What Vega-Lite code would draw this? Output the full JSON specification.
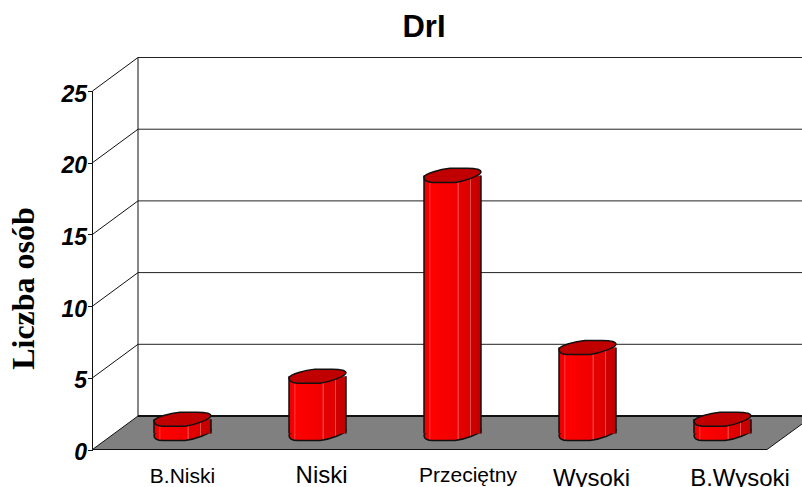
{"$schema":"https://vega.github.io/schema/vega-lite/v6.json","autosize":"none","padding":0,"width":802,"height":487,"background":"white","config":{"view":{"stroke":null}},
"title":{"text":"DrI","font":"Liberation Sans","fontWeight":"bold","fontSize":31,"color":"#000","anchor":"middle","dx":23,"offset":-44,"orient":"top"},
"datasets":{
"bars":[{"category":"B.Niski","pos":1,"value":1},{"category":"Niski","pos":2,"value":4},{"category":"Przeciętny","pos":3,"value":18},{"category":"Wysoki","pos":4,"value":6},{"category":"B.Wysoki","pos":5,"value":1}],
"floor":[{"x":0.3333,"top":-1.116,"bot":-1.116},{"x":0.6704,"top":1.22,"bot":-1.116},{"x":5.3296,"top":1.22,"bot":-1.116},{"x":5.5889,"top":1.22,"bot":0.662}],
"back":[{"v":5,"y":6.22},{"v":10,"y":11.22},{"v":15,"y":16.22},{"v":20,"y":21.22},{"v":25,"y":26.22}],
"edges":[{"x":0.3333,"x2":5.3296,"y":-1.116,"y2":-1.116},{"x":5.3296,"x2":5.5889,"y":-1.116,"y2":0.662},{"x":0.6704,"x2":0.6704,"y":1.22,"y2":26.22},{"x":0.3333,"x2":0.3333,"y":-1.116,"y2":23.884}],
"grid":[{"v":0,"v2":2.336},{"v":5,"v2":7.336},{"v":10,"v2":12.336},{"v":15,"v2":17.336},{"v":20,"v2":22.336},{"v":25,"v2":27.336}],
"labels":[{"label":"B.Niski","lx":1,"ly":-3.452,"group":"a"},{"label":"Niski","lx":2.03,"ly":-3.452,"group":"b"},{"label":"Przeciętny","lx":3.115,"ly":-3.382,"group":"c"},{"label":"Wysoki","lx":4.03,"ly":-3.66,"group":"b"},{"label":"B.Wysoki","lx":5.13,"ly":-3.66,"group":"b"}]
},
"layer":[
{"layer":[
{"data":{"name":"floor"},"mark":{"type":"area","fill":"#808080"},"encoding":{"x":{"field":"x","type":"quantitative","scale":{"domain":[-0.3519,5.5889],"nice":false,"zero":false,"padding":0},"axis":null},"y":{"field":"top","type":"quantitative","scale":{"domain":[-3.731,30.23],"nice":false,"zero":false},"axis":null},"y2":{"field":"bot"}}},
{"data":{"name":"back"},"mark":{"type":"rule","color":"#222","strokeWidth":1},"encoding":{"x":{"datum":0.6704,"type":"quantitative"},"x2":{"datum":5.5889},"y":{"field":"y","type":"quantitative"}}},
{"data":{"values":[{"y":1.22}]},"mark":{"type":"rule","color":"#111","strokeWidth":2},"encoding":{"x":{"datum":0.6704,"type":"quantitative"},"x2":{"datum":5.5889},"y":{"field":"y","type":"quantitative"}}},
{"data":{"name":"edges"},"mark":{"type":"rule","color":"#111","strokeWidth":1},"encoding":{"x":{"field":"x","type":"quantitative"},"x2":{"field":"x2"},"y":{"field":"y","type":"quantitative"},"y2":{"field":"y2"}}},
{"data":{"name":"bars"},"mark":{"type":"point","filled":true,"opacity":1,"size":3249,"shape":"M-1,0.06 C-0.98,-0.07 -0.42,-0.21 -0.088,-0.246 L0.509,-0.246 C0.77,-0.246 1,-0.21 1,-0.116 C1,0 0.42,0.21 0.088,0.246 L-0.684,0.246 C-0.91,0.246 -1,0.175 -1,0.06 Z","stroke":"#111","strokeWidth":1.5,"fill":{"gradient":"linear","x1":0,"x2":1,"y1":0,"y2":0,"stops":[{"offset":0,"color":"#ee0000"},{"offset":0.09,"color":"#f60000"},{"offset":0.1,"color":"#ff4040"},{"offset":0.12,"color":"#ff0000"},{"offset":0.58,"color":"#f00000"},{"offset":0.6,"color":"#f05050"},{"offset":0.62,"color":"#e60000"},{"offset":0.8,"color":"#dc0000"},{"offset":0.815,"color":"#e05050"},{"offset":0.83,"color":"#d00000"},{"offset":1,"color":"#c00000"}]}},"encoding":{"x":{"field":"pos","type":"quantitative"},"y":{"datum":0,"type":"quantitative"}}},
{"data":{"name":"bars"},"mark":{"type":"bar","size":57,"orient":"vertical","fill":{"gradient":"linear","x1":0,"x2":1,"y1":0,"y2":0,"stops":[{"offset":0,"color":"#ee0000"},{"offset":0.09,"color":"#f60000"},{"offset":0.1,"color":"#ff4040"},{"offset":0.12,"color":"#ff0000"},{"offset":0.58,"color":"#f00000"},{"offset":0.6,"color":"#f05050"},{"offset":0.62,"color":"#e60000"},{"offset":0.8,"color":"#dc0000"},{"offset":0.815,"color":"#e05050"},{"offset":0.83,"color":"#d00000"},{"offset":1,"color":"#c00000"}]}},"encoding":{"x":{"field":"pos","type":"quantitative"},"y":{"field":"value","type":"quantitative","stack":null}}},
{"data":{"name":"bars"},"mark":{"type":"rule","color":"#111","strokeWidth":1.5,"xOffset":-28.5},"encoding":{"x":{"field":"pos","type":"quantitative"},"y":{"field":"value","type":"quantitative"},"y2":{"datum":0}}},
{"data":{"name":"bars"},"mark":{"type":"rule","color":"#111","strokeWidth":1.5,"xOffset":28.5},"encoding":{"x":{"field":"pos","type":"quantitative"},"y":{"field":"value","type":"quantitative"},"y2":{"datum":0}}},
{"data":{"name":"bars"},"mark":{"type":"point","filled":true,"opacity":1,"size":3249,"shape":"M-1,0.06 C-0.98,-0.07 -0.42,-0.21 -0.088,-0.246 L0.509,-0.246 C0.77,-0.246 1,-0.21 1,-0.116 C1,0 0.42,0.21 0.088,0.246 L-0.684,0.246 C-0.91,0.246 -1,0.175 -1,0.06 Z","stroke":"#111","strokeWidth":1.5,"fill":"#c00000"},"encoding":{"x":{"field":"pos","type":"quantitative"},"y":{"field":"value","type":"quantitative"}}},
{"data":{"name":"labels"},"transform":[{"filter":"datum.group=='a'"}],"mark":{"type":"text","font":"Liberation Sans","fontSize":21,"align":"center","baseline":"alphabetic","color":"#000"},"encoding":{"x":{"field":"lx","type":"quantitative"},"y":{"field":"ly","type":"quantitative"},"text":{"field":"label"}}},
{"data":{"name":"labels"},"transform":[{"filter":"datum.group=='b'"}],"mark":{"type":"text","font":"Liberation Sans","fontSize":24,"align":"center","baseline":"alphabetic","color":"#000"},"encoding":{"x":{"field":"lx","type":"quantitative"},"y":{"field":"ly","type":"quantitative"},"text":{"field":"label"}}},
{"data":{"name":"labels"},"transform":[{"filter":"datum.group=='c'"}],"mark":{"type":"text","font":"Liberation Sans","fontSize":21,"align":"center","baseline":"alphabetic","color":"#000"},"encoding":{"x":{"field":"lx","type":"quantitative"},"y":{"field":"ly","type":"quantitative"},"text":{"field":"label"}}}
]},
{"data":{"name":"grid"},"mark":{"type":"rule","color":"#111","strokeWidth":1},"encoding":{"x":{"datum":0.3333,"type":"quantitative"},"x2":{"datum":0.6704},"y":{"field":"v","type":"quantitative","scale":{"domain":[-2.615,31.346],"nice":false,"zero":false},"axis":{"orient":"left","offset":-92.5,"values":[0,5,10,15,20,25],"grid":false,"domain":false,"tickColor":"#111","tickSize":5,"labelPadding":1,"labelFont":"Liberation Sans","labelFontWeight":"bold","labelFontStyle":"italic","labelFontSize":23,"labelColor":"#000","labelOffset":3,"title":"Liczba osób","titleFont":"Liberation Serif","titleFontWeight":"bold","titleFontSize":32,"titleColor":"#000","titleAngle":270,"titleX":-69.5,"titleY":288,"titleAlign":"center","titleBaseline":"middle"}},"y2":{"field":"v2"}}}
],
"resolve":{"scale":{"y":"independent"}}}
